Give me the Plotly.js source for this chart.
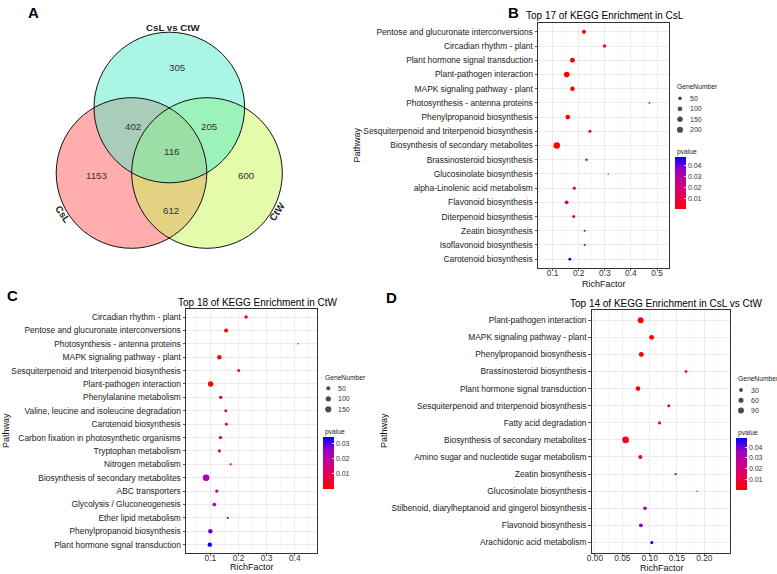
<!DOCTYPE html>
<html><head><meta charset="utf-8">
<script src="https://cdn.plot.ly/plotly-3.0.1.min.js"></script>
<style>html,body{margin:0;padding:0;background:#fff}#chart{width:777px;height:574px}</style>
</head><body><div id="chart"></div>
<script>
// ---------------- DATA ----------------
const vennSets = ["CsL", "CtW", "CsL vs CtW"];
const vennRegions = ["CsL only", "CtW only", "CsL vs CtW only", "CsL & CsL vs CtW", "CtW & CsL vs CtW", "CsL & CtW", "all three"];
const vennCounts = [1153, 600, 305, 402, 205, 612, 116];

const bPathways = ["Pentose and glucuronate interconversions","Circadian rhythm - plant","Plant hormone signal transduction","Plant-pathogen interaction","MAPK signaling pathway - plant","Photosynthesis - antenna proteins","Phenylpropanoid biosynthesis","Sesquiterpenoid and triterpenoid biosynthesis","Biosynthesis of secondary metabolites","Brassinosteroid biosynthesis","Glucosinolate biosynthesis","alpha-Linolenic acid metabolism","Flavonoid biosynthesis","Diterpenoid biosynthesis","Zeatin biosynthesis","Isoflavonoid biosynthesis","Carotenoid biosynthesis"];
const bRich = [0.220,0.299,0.176,0.154,0.176,0.471,0.158,0.243,0.116,0.230,0.313,0.183,0.154,0.181,0.223,0.223,0.166];
const bGenes = [70,40,110,160,88,9,98,28,240,17,8,33,51,28,12,12,25];
const bP = [0.00001,0.0008,0.0003,0.000001,0.0002,0.002,0.0005,0.004,0.00005,0.006,0.011,0.024,0.026,0.028,0.036,0.036,0.048];

const cPathways = ["Circadian rhythm - plant","Pentose and glucuronate interconversions","Photosynthesis - antenna proteins","MAPK signaling pathway - plant","Sesquiterpenoid and triterpenoid biosynthesis","Plant-pathogen interaction","Phenylalanine metabolism","Valine, leucine and isoleucine degradation","Carotenoid biosynthesis","Carbon fixation in photosynthetic organisms","Tryptophan metabolism","Nitrogen metabolism","Biosynthesis of secondary metabolites","ABC transporters","Glycolysis / Gluconeogenesis","Ether lipid metabolism","Phenylpropanoid biosynthesis","Plant hormone signal transduction"];
const cRich = [0.227,0.156,0.412,0.132,0.201,0.101,0.137,0.155,0.157,0.136,0.132,0.172,0.085,0.123,0.114,0.162,0.100,0.098];
const cGenes = [30,50,8,66,23,106,30,25,22,30,28,12,176,32,40,10,62,62];
const cP = [0.0005,0.0002,0.001,0.0003,0.002,0.00001,0.006,0.008,0.009,0.014,0.014,0.016,0.022,0.020,0.021,0.024,0.029,0.0345];

const dPathways = ["Plant-pathogen interaction","MAPK signaling pathway - plant","Phenylpropanoid biosynthesis","Brassinosteroid biosynthesis","Plant hormone signal transduction","Sesquiterpenoid and triterpenoid biosynthesis","Fatty acid degradation","Biosynthesis of secondary metabolites","Amino sugar and nucleotide sugar metabolism","Zeatin biosynthesis","Glucosinolate biosynthesis","Stilbenoid, diarylheptanoid and gingerol biosynthesis","Flavonoid biosynthesis","Arachidonic acid metabolism"];
const dRich = [0.0836,0.1037,0.0848,0.1665,0.0787,0.135,0.118,0.056,0.083,0.1476,0.1866,0.0915,0.084,0.104];
const dGenes = [88,55,55,12,50,15,18,116,35,8,5,22,28,15];
const dP = [0.00001,0.0008,0.0008,0.002,0.002,0.003,0.006,0.007,0.013,0.030,0.034,0.036,0.038,0.0485];

const bTitle = "Top 17 of KEGG Enrichment in CsL";
const cTitle = "Top 18 of KEGG Enrichment in CtW";
const dTitle = "Top 14 of KEGG Enrichment in CsL vs CtW";
const bSizeBreaks = [50,100,150,200];
const cSizeBreaks = [50,100,150];
const dSizeBreaks = [30,60,90];
const bPTicks = [0.01,0.02,0.03,0.04];
const cPTicks = [0.01,0.02,0.03];
const dPTicks = [0.01,0.02,0.03,0.04];

// ---------------- LAYOUT / STYLE ----------------
const W = 777, H = 574;
const FONT = "Liberation Sans, Arial, sans-serif";
const CS = [[0,'rgb(255,0,0)'],[0.25,'rgb(232,0,79)'],[0.5,'rgb(202,0,137)'],[0.75,'rgb(156,0,196)'],[1,'rgb(0,0,255)']];
const DMIN = 1.5, DMAX = 6.6;
function ggSize(v, lo, hi){ return DMIN + (DMAX-DMIN)*Math.sqrt((v-lo)/(hi-lo)); }

const panels = {
  B: {x0:538, x1:669, y0:23.3, y1:267.7, xr:[0.044,0.546], tv:[0.1,0.2,0.3,0.4,0.5], fmt:'.1f', minor:0.05,
      title:[605,15.5], xt:[603.5,283.5], yt:[356,145.5], letter:[513,12],
      lg:{tx:675, ty:86.7, dx:680, dy0:98.3, ddy:10.5, lx:687.5}, cb:{x0:675, x1:686, y0:157.3, y1:209.3, tx:674.5, ty:151.7}},
  C: {x0:186, x1:317.3, y0:309, y1:552.7, xr:[0.0135,0.48], tv:[0.1,0.2,0.3,0.4], fmt:'.1f', minor:0.05,
      title:[257.7,302], xt:[252,567], yt:[6,431], letter:[12.5,295],
      lg:{tx:322.7, ty:377.7, dx:328.3, dy0:388.3, ddy:10.5, lx:335.5}, cb:{x0:323, x1:334, y0:436.7, y1:488.3, tx:322.7, ty:431.5}},
  D: {x0:591.7, x1:730, y0:310, y1:552.7, xr:[-0.006,0.247], tv:[0,0.05,0.1,0.15,0.2], fmt:'.2f', minor:0.025,
      title:[666.3,303.3], xt:[662,567.5], yt:[384,431], letter:[391,297],
      lg:{tx:736, ty:378.3, dx:741, dy0:390, ddy:10.3, lx:748.8}, cb:{x0:736, x1:747, y0:438.3, y1:490, tx:735.7, ty:433.3}}
};

const traces = [];
const layout = {
  width: W, height: H, margin:{l:0,r:0,t:0,b:0}, paper_bgcolor:'#fff', plot_bgcolor:'rgba(0,0,0,0)',
  showlegend:false, font:{family:FONT, color:'#222'}, shapes:[], annotations:[],
  xaxis5:{domain:[0,1], range:[0,W], visible:false, fixedrange:true, anchor:'y5'},
  yaxis5:{domain:[0,1], range:[H,0], visible:false, fixedrange:true, anchor:'x5'}
};
function ann(x,y,text,o){ layout.annotations.push(Object.assign({xref:'x5',yref:'y5',x:x,y:y,text:text,showarrow:false,
  font:{family:FONT,size:9,color:'#222'},xanchor:'center',yanchor:'middle'},o||{})); }

function addPanel(key, idx, path, rich, genes, p, sizeBreaks, pTicks, title){
  const P = panels[key];
  const xa = 'x'+idx, ya = 'y'+idx, n = path.length;
  const lo = Math.min(...genes), hi = Math.max(...genes);
  layout['xaxis'+idx] = {domain:[P.x0/W, P.x1/W], anchor:ya, range:P.xr, tickvals:P.tv, tickformat:P.fmt,
    showline:true, mirror:true, linecolor:'#333', linewidth:1, ticks:'outside', ticklen:2.5, tickcolor:'#333', tickwidth:0.8,
    ticklabelstandoff:-5,
    showgrid:true, gridcolor:'#ebebeb', gridwidth:1, zeroline:false, fixedrange:true,
    tickfont:{family:FONT,size:8.4,color:'#333'},
    minor:{dtick:P.minor, tick0:0, showgrid:true, gridcolor:'#f3f3f3', gridwidth:0.6, ticks:''}};
  layout['yaxis'+idx] = {domain:[1-P.y1/H, 1-P.y0/H], anchor:xa, type:'category', categoryorder:'array', categoryarray:path,
    range:[n-0.4, -0.6], showline:true, mirror:true, linecolor:'#333', linewidth:1, ticks:'outside', ticklen:2.5,
    tickcolor:'#333', tickwidth:0.8, showgrid:true, gridcolor:'#ebebeb', gridwidth:1, zeroline:false, fixedrange:true,
    tickfont:{family:FONT,size:8.4,color:'#222'}};
  traces.push({type:'scatter', mode:'markers', x:rich, y:path, xaxis:xa, yaxis:ya, hoverinfo:'skip',
    marker:{size:genes.map(g=>ggSize(g,lo,hi)), color:p, cmin:0, cmax:Math.max(...p), colorscale:CS, showscale:true,
      line:{width:0}, opacity:1,
      colorbar:{x:P.cb.x0/W, xanchor:'left', y:1-(P.cb.y0+P.cb.y1)/2/H, yanchor:'middle', len:P.cb.y1-P.cb.y0, lenmode:'pixels',
        thickness:P.cb.x1-P.cb.x0, thicknessmode:'pixels', xpad:0, ypad:0, outlinewidth:0, tickvals:pTicks, tickformat:'.2f',
        ticks:'inside', ticklen:2, tickcolor:'#fff', tickwidth:0.8, tickfont:{family:FONT,size:7,color:'#333'}}}});
  // size legend
  traces.push({type:'scatter', mode:'markers', xaxis:'x5', yaxis:'y5', hoverinfo:'skip',
    x:sizeBreaks.map(()=>P.lg.dx), y:sizeBreaks.map((v,i)=>P.lg.dy0+i*P.lg.ddy),
    marker:{size:sizeBreaks.map(v=>ggSize(v,lo,hi)), color:'#000', line:{width:0}}});
  sizeBreaks.forEach((v,i)=>ann(P.lg.lx, P.lg.dy0+i*P.lg.ddy, String(v), {xanchor:'left', font:{family:FONT,size:7,color:'#333'}}));
  ann(P.lg.tx, P.lg.ty, 'GeneNumber', {xanchor:'left', font:{family:FONT,size:6.7,color:'#222'}});
  ann(P.cb.tx, P.cb.ty, 'pvalue', {xanchor:'left', font:{family:FONT,size:6.7,color:'#222'}});
  ann(P.title[0], P.title[1], title, {font:{family:FONT,size:10,color:'#000'}});
  ann(P.xt[0], P.xt[1], 'RichFactor', {font:{family:FONT,size:9,color:'#111'}});
  ann(P.yt[0], P.yt[1], 'Pathway', {textangle:-90, font:{family:FONT,size:9,color:'#111'}});
  ann(P.letter[0], P.letter[1], key, {font:{family:FONT,size:15,color:'#000',weight:'bold'}});
}

addPanel('B', 2, bPathways, bRich, bGenes, bP, bSizeBreaks, bPTicks, bTitle);
addPanel('C', 3, cPathways, cRich, cGenes, cP, cSizeBreaks, cPTicks, cTitle);
addPanel('D', 4, dPathways, dRich, dGenes, dP, dSizeBreaks, dPTicks, dTitle);

// ---------------- VENN (panel A) ----------------
const vennCircles = [ // layout geometry in page pixels
  {cx:131.5, cy:173, r:75.3, fill:'rgba(255,91,91,0.5)'},
  {cx:207,   cy:173, r:75.3, fill:'rgba(199,247,85,0.5)'},
  {cx:169.3, cy:107.5, r:75.3, fill:'rgba(85,235,199,0.5)'}
];
vennCircles.forEach(c=>layout.shapes.push({type:'circle', xref:'x5', yref:'y5', x0:c.cx-c.r, x1:c.cx+c.r, y0:c.cy-c.r, y1:c.cy+c.r,
  fillcolor:c.fill, line:{width:0}, layer:'above'}));
vennCircles.forEach(c=>layout.shapes.push({type:'circle', xref:'x5', yref:'y5', x0:c.cx-c.r, x1:c.cx+c.r, y0:c.cy-c.r, y1:c.cy+c.r,
  fillcolor:'rgba(0,0,0,0)', line:{width:1, color:'#111'}, layer:'above'}));
const vennCountPos = [[96.7,175],[246.3,175],[177,67.7],[133.3,126.7],[209,126.7],[171,210.7],[171.3,151]];
vennCounts.forEach((v,i)=>ann(vennCountPos[i][0], vennCountPos[i][1], String(v), {font:{family:FONT,size:9.7,color:'#333'}}));
const vennLabelPos = [[62.5,213.5,56],[277,211.5,-55],[173.3,27.7,0]];
vennSets.forEach((s,i)=>ann(vennLabelPos[i][0], vennLabelPos[i][1], s, {textangle:vennLabelPos[i][2], font:{family:FONT,size:9.7,color:'#222',weight:'bold'}}));
ann(33, 12.5, 'A', {font:{family:FONT,size:15,color:'#000',weight:'bold'}});

Plotly.newPlot('chart', traces, layout, {staticPlot:true, displayModeBar:false});
</script></body></html>
